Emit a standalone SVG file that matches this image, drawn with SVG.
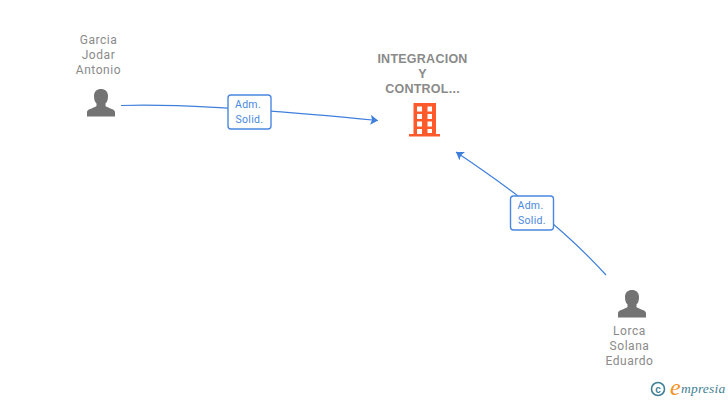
<svg xmlns="http://www.w3.org/2000/svg" width="728" height="400" viewBox="0 0 728 400">
<style>
.n{font:12px Roboto,"Liberation Sans",sans-serif;fill:#8a8a8a;text-anchor:middle;letter-spacing:.55px}
.c{font:bold 12.500px "Liberation Sans",Arial,sans-serif;fill:#8a8a8a;text-anchor:middle;letter-spacing:.25px}
.l{font:10.500px Roboto,"Liberation Sans",sans-serif;fill:#4a88e0;letter-spacing:.3px}
.e{fill:none;stroke:#3f7fdc;stroke-width:1.200}
.b{fill:#fff;stroke:#4a88e0;stroke-width:1.400}
.p{fill:#737373}
.o{fill:#ff5a2b}
</style>
<defs>
<marker id="a" markerUnits="userSpaceOnUse" markerWidth="9" markerHeight="12" refX="7.500" refY="5" orient="auto"><path d="M0 0L7.500 5L0 10L1.500 5Z" fill="#3f7fdc"/></marker>
<path id="u" d="M-14 14V9.500C-14 6.500-6.500 5.500-4.500 3.500V1C-6.500-.5-7-4-7-6.500C-7-11-4-13.500 0-13.500S7-11 7-6.500C7-4 6.500-.5 4.500 1V3.500C6.500 5.500 14 6.500 14 9.500V14Z"/>
</defs>
<g id="connectors">
<path class="e" marker-end="url(#a)" d="M121 105.500C170 104 235 107 378 120.500"/>
<path class="e" marker-end="url(#a)" d="M606 275C565 230 520 195 456 152"/>
</g>
<g id="node-garcia">
<text class="n" x="98.500" y="44">Garcia</text><text class="n" x="98.500" y="59">Jodar</text><text class="n" x="98.500" y="74">Antonio</text>
<use href="#u" class="p" x="101" y="102.500"/>
</g>
<g id="node-integracion">
<text class="c" x="422.500" y="63">INTEGRACION</text><text class="c" x="422.500" y="78">Y</text><text class="c" x="422.500" y="93">CONTROL...</text>
<path class="o" fill-rule="evenodd" d="M413.500 103H436V134H440V136.500H409V134H413.500ZM417 106.500V111.500H422V106.500ZM427.500 106.500V111.500H432V106.500ZM417 114V119H422V114ZM427.500 114V119H432V114ZM417 121.500V126.500H422V121.500ZM427.500 121.500V126.500H432V121.500ZM417 129V134H422V129ZM427.500 129V133H432V129Z"/>
</g>
<g id="node-lorca">
<use href="#u" class="p" x="632" y="303.500"/>
<text class="n" x="629.500" y="335">Lorca</text><text class="n" x="629.500" y="350">Solana</text><text class="n" x="629.500" y="365">Eduardo</text>
</g>
<g id="label-1">
<rect class="b" x="228" y="95" width="43" height="34" rx="3"/>
<text class="l" x="235" y="108">Adm.</text><text class="l" x="235.500" y="123">Solid.</text>
</g>
<g id="label-2">
<rect class="b" x="510.500" y="196" width="43" height="34" rx="3"/>
<text class="l" x="517.500" y="209">Adm.</text><text class="l" x="518" y="224">Solid.</text>
</g>
<g id="watermark">
<circle cx="658" cy="389" r="6.500" fill="none" stroke="#3f7f95" stroke-width="1.600"/>
<text x="658" y="392.500" text-anchor="middle" style="font:bold 10px 'Liberation Sans',sans-serif;fill:#3f7f95">c</text>
<text x="670" y="395" style="font:italic 24px 'Liberation Serif',serif;fill:#f5921e">e</text>
<text x="681" y="393" style="font:italic 13.500px 'Liberation Serif',serif;fill:#3f7f95;letter-spacing:.2px">mpresia</text>
</g>
</svg>
